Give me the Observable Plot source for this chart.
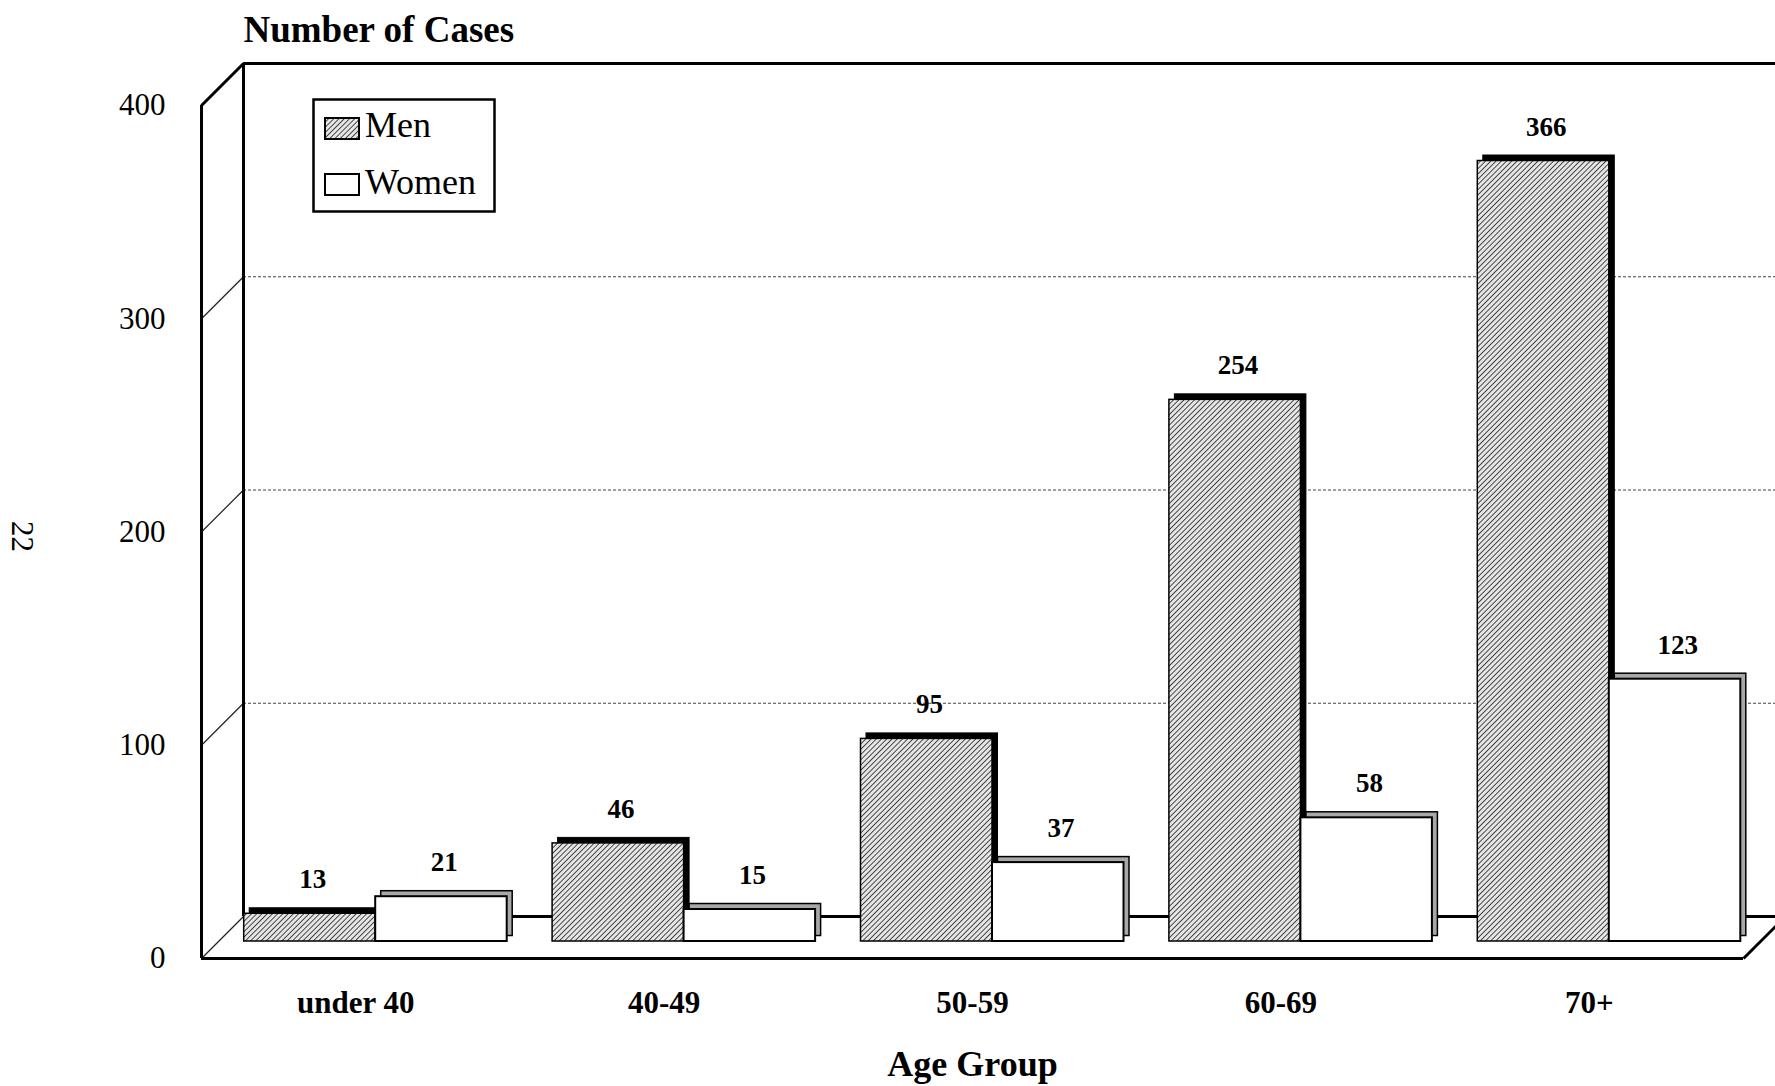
<!DOCTYPE html>
<html>
<head>
<meta charset="utf-8">
<script src="https://cdn.jsdelivr.net/npm/d3@7"></script>
<script src="https://cdn.jsdelivr.net/npm/@observablehq/plot@0.6"></script>
<style>
  html, body { margin: 0; padding: 0; background: #fff; overflow: hidden; }
  #wrap { position: relative; width: 1775px; height: 1086px; }
  #legend { position: absolute; left: 312px; top: 98px; }
</style>
</head>
<body>
<div id="wrap"></div>
<script>
// ---- data ----
const categories = ["under 40", "40-49", "50-59", "60-69", "70+"];
const men = [13, 46, 95, 254, 366];
const women = [21, 15, 37, 58, 123];
const yTicks = [0, 100, 200, 300, 400];
const gridValues = [100, 200, 300];
const pageNumber = ["22"];

// ---- layout ----
const W = 1775, H = 1086;
const M = {top: 105, right: 32, bottom: 128, left: 201};
const DEPTH = 42;            // wall depth in px
const BAR_DX = 20, BAR_DY = -17;  // bar plane offset
const BOX = 5.5;             // bar thickness (3D)
const BAR_W = 0.4264;        // bar width in category units
const pxX = (W - M.left - M.right) / categories.length;
const pxY = (H - M.top - M.bottom) / 400;
const FONT = "'Liberation Serif', 'Times New Roman', serif";

const rows = categories.flatMap((c, i) => [
  {i, category: c, sex: "Men", value: men[i]},
  {i, category: c, sex: "Women", value: women[i]}
]);
const menRows = rows.filter(d => d.sex === "Men");
const womenRows = rows.filter(d => d.sex === "Women");

const x1Of = d => d.sex === "Men" ? d.i - BAR_W : d.i;
const x2Of = d => d.sex === "Men" ? d.i : d.i + BAR_W;

const diagThin = [0, 100, 200, 300];

const chart = Plot.plot({
  width: W, height: H,
  marginTop: M.top, marginRight: M.right, marginBottom: M.bottom, marginLeft: M.left,
  style: {fontFamily: FONT, background: "#fff", color: "#000", overflow: "visible"},
  x: {type: "linear", domain: [-0.5, categories.length - 0.5], axis: null},
  y: {type: "linear", domain: [0, 400], axis: null},
  marks: [
    // back wall gridlines
    Plot.ruleY(gridValues, {dx: DEPTH, dy: -DEPTH, stroke: "#444", strokeWidth: 1, strokeDasharray: "3,2"}),
    // side-wall diagonals for gridlines and floor
    Plot.link(diagThin, {x1: () => -0.5, y1: d => d, x2: () => -0.5 + DEPTH / pxX, y2: d => d + DEPTH / pxY,
      stroke: "#222", strokeWidth: 1.2}),
    // top-left diagonal
    Plot.link([400], {x1: () => -0.5, y1: d => d, x2: () => -0.5 + DEPTH / pxX, y2: d => d + DEPTH / pxY,
      stroke: "#000", strokeWidth: 3}),
    // right floor diagonal
    Plot.link([0], {x1: () => categories.length - 0.5, y1: d => d, x2: () => categories.length - 0.5 + DEPTH / pxX, y2: d => d + DEPTH / pxY,
      stroke: "#000", strokeWidth: 3}),
    // back wall frame
    Plot.ruleY([400], {dx: DEPTH, dy: -DEPTH, stroke: "#000", strokeWidth: 3}),
    Plot.ruleY([0], {dx: DEPTH, dy: -DEPTH, stroke: "#000", strokeWidth: 3}),
    Plot.ruleX([-0.5], {dx: DEPTH, dy: -DEPTH, stroke: "#000", strokeWidth: 3}),
    // front axis + floor edge
    Plot.ruleX([-0.5], {stroke: "#000", strokeWidth: 3}),
    Plot.ruleY([0], {stroke: "#000", strokeWidth: 3}),

    // Men bars: depth box then front face
    Plot.rect(menRows, {x1: x1Of, x2: x2Of, y1: () => 0, y2: "value",
      dx: BAR_DX + BOX, dy: BAR_DY - BOX, fill: "#000", stroke: "#000", strokeWidth: 1}),
    Plot.rect(menRows, {x1: x1Of, x2: x2Of, y1: () => 0, y2: "value",
      dx: BAR_DX, dy: BAR_DY, fill: "url(#hatch)", stroke: "#000", strokeWidth: 1.5}),
    // Women bars
    Plot.rect(womenRows, {x1: x1Of, x2: x2Of, y1: () => 0, y2: "value",
      dx: BAR_DX + BOX, dy: BAR_DY - BOX, fill: "#a8a8a8", stroke: "#000", strokeWidth: 1.5}),
    Plot.rect(womenRows, {x1: x1Of, x2: x2Of, y1: () => 0, y2: "value",
      dx: BAR_DX, dy: BAR_DY, fill: "#fff", stroke: "#000", strokeWidth: 2}),

    // value labels
    Plot.text(rows, {x: d => (x1Of(d) + x2Of(d)) / 2, y: "value", text: d => String(d.value),
      dx: BAR_DX + BOX / 2, dy: BAR_DY - BOX - 20, lineAnchor: "bottom",
      fontSize: 27, fontWeight: "bold", fill: "#000"}),

    // y tick labels
    Plot.text(yTicks, {y: d => d, text: d => String(d), frameAnchor: "left", dx: -36,
      textAnchor: "end", lineAnchor: "middle", fontSize: 31, fill: "#000"}),
    // x category labels
    Plot.text(categories, {x: (d, i) => i, text: d => d, frameAnchor: "bottom", dy: 54,
      lineAnchor: "bottom", fontSize: 31, fontWeight: "bold", fill: "#000"}),
    // axis titles
    Plot.text(["Number of Cases"], {frameAnchor: "top-left", dx: 42, dy: -64, text: d => d,
      textAnchor: "start", lineAnchor: "bottom", fontSize: 37, fontWeight: "bold", fill: "#000"}),
    Plot.text(["Age Group"], {frameAnchor: "bottom", dy: 117, text: d => d,
      lineAnchor: "bottom", fontSize: 36, fontWeight: "bold", fill: "#000"}),
    // rotated page number
    Plot.text(pageNumber, {frameAnchor: "left", dx: -180, dy: -11, text: d => d, rotate: 90,
      lineAnchor: "middle", fontSize: 31, fill: "#000"})
  ]
});

// hatch pattern
function addHatch(sel, id) {
  const pat = sel.append("pattern").attr("id", id).attr("patternUnits", "userSpaceOnUse")
    .attr("width", 3.7).attr("height", 3.7).attr("patternTransform", "rotate(45)");
  pat.append("rect").attr("width", 3.7).attr("height", 3.7).attr("fill", "#e6e6e6");
  pat.append("line").attr("x1", 0.4).attr("y1", 0).attr("x2", 0.4).attr("y2", 3.7)
    .attr("stroke", "#000").attr("stroke-width", 0.75);
}
addHatch(d3.select(chart).insert("defs", ":first-child"), "hatch");

const wrap = document.getElementById("wrap");
wrap.appendChild(chart);

// legend
const legend = d3.create("svg").attr("id", "legend").attr("width", 186).attr("height", 117)
  .style("font-family", FONT);
addHatch(legend.append("defs"), "hatchLegend");
legend.append("rect").attr("x", 1.5).attr("y", 1.5).attr("width", 181).attr("height", 112)
  .attr("fill", "#fff").attr("stroke", "#000").attr("stroke-width", 2.5);
const legendItems = [{label: "Men", fill: "url(#hatchLegend)"}, {label: "Women", fill: "#fff"}];
legendItems.forEach((it, k) => {
  legend.append("rect").attr("x", 13).attr("y", 20 + k * 56).attr("width", 34).attr("height", 21)
    .attr("fill", it.fill).attr("stroke", "#000").attr("stroke-width", 2);
  legend.append("text").attr("x", 53).attr("y", 39 + k * 57).attr("font-size", 36).text(it.label);
});
wrap.appendChild(legend.node());
</script>
</body>
</html>
